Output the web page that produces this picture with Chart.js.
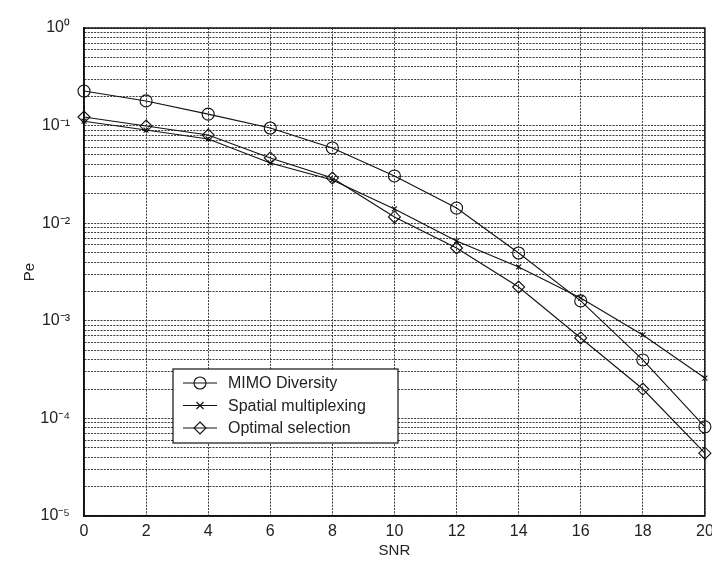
<!DOCTYPE html>
<html>
<head>
<meta charset="utf-8">
<script src="https://cdn.jsdelivr.net/npm/chart.js@4/dist/chart.umd.min.js"></script>
<style>
  html, body { margin: 0; padding: 0; background: #fff; }
  #wrap { width: 712px; height: 568px; }
</style>
</head>
<body>
<div id="wrap"><canvas id="c" width="712" height="568"></canvas></div>
<script>
// ---- data ----
const snr = [0, 2, 4, 6, 8, 10, 12, 14, 16, 18, 20];
const mimoDiversity = [0.226, 0.179, 0.131, 0.0945, 0.059, 0.0305, 0.0143, 0.00495, 0.0016, 0.000397, 0.000082];
const spatialMultiplexing = [0.111, 0.090, 0.073, 0.0414, 0.0277, 0.0140, 0.00657, 0.00356, 0.00171, 0.000716, 0.000259];
const optimalSelection = [0.1225, 0.099, 0.080, 0.0466, 0.029, 0.0116, 0.00557, 0.00222, 0.000667, 0.0002, 0.000044];
const seriesLabels = ['MIMO Diversity', 'Spatial multiplexing', 'Optimal selection'];
const xTitle = 'SNR';
const yTitle = 'Pe';
const yDecades = [-5, -4, -3, -2, -1, 0];

const FONT = "'Liberation Sans', Arial, Helvetica, sans-serif";
const SUP = {'0':'⁰','1':'¹','2':'²','3':'³','4':'⁴','5':'⁵','6':'⁶','7':'⁷','8':'⁸','9':'⁹','-':'⁻'};
const toSup = s => String(s).split('').map(ch => SUP[ch] || ch).join('');

function pts(arr) { return snr.map((x, i) => ({ x: x, y: arr[i] })); }

const styles = [
  { pointStyle: 'circle', pointRadius: 6 },
  { pointStyle: 'crossRot', pointRadius: 3.5 },
  { pointStyle: 'rectRot', pointRadius: 6 }
];
const seriesData = [mimoDiversity, spatialMultiplexing, optimalSelection];

const datasets = seriesData.map((arr, i) => ({
  label: seriesLabels[i],
  data: pts(arr),
  borderColor: '#111',
  borderWidth: 1.1,
  backgroundColor: 'transparent',
  pointBackgroundColor: 'transparent',
  pointBorderColor: '#111',
  pointBorderWidth: 1.1,
  pointStyle: styles[i].pointStyle,
  pointRadius: styles[i].pointRadius,
  tension: 0,
  clip: false
}));

// frame + in-plot legend
const framePlugin = {
  id: 'frameLegend',
  afterDraw(chart) {
    const ctx = chart.ctx, a = chart.chartArea;
    ctx.save();
    ctx.strokeStyle = '#111';
    ctx.lineWidth = 1.5;
    ctx.setLineDash([]);
    ctx.strokeRect(a.left, a.top, a.right - a.left, a.bottom - a.top);

    // legend box
    const lx = a.left + 89, ly = a.top + 341, lw = 225, lh = 74;
    ctx.fillStyle = '#fff';
    ctx.fillRect(lx, ly, lw, lh);
    ctx.lineWidth = 1.2;
    ctx.strokeRect(lx, ly, lw, lh);
    const rows = [14, 36.5, 59];
    chart.data.datasets.forEach((ds, i) => {
      const cy = ly + rows[i];
      ctx.strokeStyle = '#111';
      ctx.lineWidth = 1;
      ctx.beginPath();
      ctx.moveTo(lx + 10, cy);
      ctx.lineTo(lx + 44, cy);
      ctx.stroke();
      const mx = lx + 27;
      const r = ds.pointRadius;
      ctx.lineWidth = 1.1;
      ctx.beginPath();
      if (ds.pointStyle === 'circle') {
        ctx.arc(mx, cy, r, 0, Math.PI * 2);
      } else if (ds.pointStyle === 'crossRot') {
        ctx.moveTo(mx - r, cy - r); ctx.lineTo(mx + r, cy + r);
        ctx.moveTo(mx - r, cy + r); ctx.lineTo(mx + r, cy - r);
      } else {
        ctx.moveTo(mx, cy - r); ctx.lineTo(mx + r, cy);
        ctx.lineTo(mx, cy + r); ctx.lineTo(mx - r, cy); ctx.closePath();
      }
      ctx.stroke();
      ctx.fillStyle = '#222';
      ctx.font = '16px ' + FONT;
      ctx.textBaseline = 'middle';
      ctx.textAlign = 'left';
      ctx.fillText(ds.label, lx + 55, cy + 1);
    });
    ctx.restore();
  }
};

new Chart(document.getElementById('c'), {
  type: 'line',
  data: { datasets: datasets },
  plugins: [framePlugin],
  options: {
    responsive: false,
    animation: false,
    layout: { padding: { top: 28, right: 7, left: 0, bottom: 0 } },
    plugins: { legend: { display: false }, tooltip: { enabled: false } },
    scales: {
      x: {
        type: 'linear',
        min: 0, max: 20,
        ticks: {
          stepSize: 2,
          padding: 6,
          color: '#222',
          font: { family: FONT, size: 16 },
          maxRotation: 0
        },
        grid: { color: '#3a3a3a', lineWidth: 1, drawTicks: false },
        border: { display: true, color: '#111', width: 1.5, dash: [2, 1.2] },
        title: { display: true, text: xTitle, color: '#222', font: { family: FONT, size: 15 }, padding: { bottom: 8, top: 0 } },
        afterFit(scale) { scale.height = 52; scale.paddingLeft = 0; scale.paddingRight = 0; }
      },
      y: {
        type: 'logarithmic',
        min: Math.pow(10, yDecades[0]),
        max: Math.pow(10, yDecades[yDecades.length - 1]),
        afterBuildTicks(scale) {
          const t = [];
          for (let n = yDecades[0]; n < yDecades[yDecades.length - 1]; n++) {
            for (let k = 1; k <= 9; k++) t.push({ value: Number((k * Math.pow(10, n)).toPrecision(3)) });
          }
          t.push({ value: Math.pow(10, yDecades[yDecades.length - 1]) });
          scale.ticks = t;
        },
        ticks: {
          autoSkip: false,
          padding: 14,
          color: '#222',
          font: { family: FONT, size: 16 },
          callback(v) {
            const e = Math.log10(v);
            if (Math.abs(e - Math.round(e)) < 1e-6) return '10' + toSup(Math.round(e));
            return '';
          }
        },
        grid: { color: '#3a3a3a', lineWidth: 1, drawTicks: false },
        border: { display: true, color: '#111', width: 1.5, dash: [2, 1.2] },
        title: { display: true, text: yTitle, color: '#222', font: { family: FONT, size: 15 }, padding: { top: 21, bottom: 0 } },
        afterFit(scale) { scale.width = 84; scale.paddingTop = 0; scale.paddingBottom = 0; }
      }
    }
  }
});
</script>
</body>
</html>
